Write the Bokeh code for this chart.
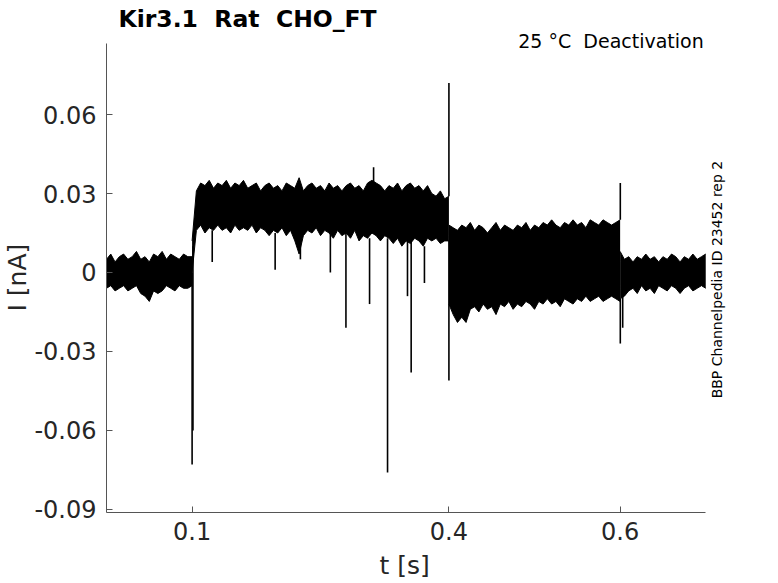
import math
from bokeh.plotting import figure
from bokeh.models import (Range1d, FixedTicker, PrintfTickFormatter, Label, Title, LinearAxis,
                          ColumnDataSource)
from bokeh.embed import file_html
from bokeh.resources import INLINE

# ---- data ----
# noise band of the overlaid sweeps, sampled every 5 ms: upper / lower envelope [nA]
t_a = [round(0.005 * i, 3) for i in range(0, 21)]          # 0.000 .. 0.100
a_hi = [0.005, 0.007, 0.004, 0.006, 0.007, 0.005, 0.006, 0.008, 0.005, 0.006, 0.004,
        0.007, 0.006, 0.008, 0.005, 0.007, 0.006, 0.005, 0.007, 0.006, 0.006]
a_lo = [-0.006, -0.005, -0.007, -0.006, -0.005, -0.007, -0.006, -0.005, -0.008, -0.009, -0.011,
        -0.007, -0.008, -0.007, -0.005, -0.006, -0.007, -0.005, -0.006, -0.006, -0.005]

t_b = [round(0.100 + 0.005 * i, 3) for i in range(0, 61)]  # 0.100 .. 0.400
b_hi = [0.012, 0.031, 0.034, 0.033, 0.035, 0.032, 0.034, 0.033, 0.035, 0.032,
        0.034, 0.033, 0.035, 0.032, 0.033, 0.034, 0.031, 0.033, 0.034, 0.032,
        0.033, 0.031, 0.034, 0.033, 0.032, 0.036, 0.031, 0.033, 0.034, 0.032,
        0.033, 0.031, 0.034, 0.032, 0.033, 0.031, 0.033, 0.034, 0.032, 0.033,
        0.031, 0.034, 0.035, 0.034, 0.033, 0.031, 0.033, 0.032, 0.034, 0.031,
        0.033, 0.034, 0.032, 0.033, 0.031, 0.033, 0.030, 0.029, 0.031, 0.028, 0.029]
b_lo = [0.000, 0.016, 0.018, 0.015, 0.017, 0.016, 0.018, 0.016, 0.017, 0.015,
        0.018, 0.016, 0.017, 0.016, 0.018, 0.015, 0.017, 0.016, 0.014, 0.016,
        0.015, 0.017, 0.014, 0.016, 0.012, 0.007, 0.014, 0.016, 0.015, 0.017,
        0.014, 0.016, 0.015, 0.013, 0.016, 0.014, 0.015, 0.013, 0.016, 0.012,
        0.014, 0.013, 0.015, 0.014, 0.012, 0.014, 0.013, 0.011, 0.013, 0.010,
        0.012, 0.011, 0.013, 0.012, 0.010, 0.013, 0.012, 0.013, 0.011, 0.012, 0.012]

t_c = [round(0.400 + 0.005 * i, 3) for i in range(0, 41)]  # 0.400 .. 0.600
c_hi = [0.018, 0.017, 0.016, 0.018, 0.017, 0.019, 0.016, 0.018, 0.017, 0.015,
        0.017, 0.019, 0.016, 0.018, 0.017, 0.016, 0.018, 0.017, 0.019, 0.016,
        0.018, 0.017, 0.019, 0.018, 0.020, 0.018, 0.017, 0.019, 0.018, 0.020,
        0.018, 0.019, 0.017, 0.020, 0.019, 0.018, 0.020, 0.019, 0.018, 0.019, 0.020]
c_lo = [-0.012, -0.016, -0.019, -0.017, -0.019, -0.014, -0.013, -0.015, -0.012, -0.014,
        -0.013, -0.016, -0.012, -0.013, -0.011, -0.014, -0.012, -0.013, -0.011, -0.012,
        -0.014, -0.011, -0.012, -0.010, -0.012, -0.011, -0.013, -0.010, -0.011, -0.012,
        -0.010, -0.011, -0.009, -0.011, -0.010, -0.009, -0.011, -0.010, -0.009, -0.010, -0.011]

t_d = [round(0.600 + 0.005 * i, 3) for i in range(0, 21)]  # 0.600 .. 0.700
d_hi = [0.008, 0.005, 0.006, 0.004, 0.006, 0.005, 0.007, 0.005, 0.006, 0.004, 0.006,
        0.005, 0.007, 0.006, 0.004, 0.006, 0.005, 0.007, 0.005, 0.006, 0.007]
d_lo = [-0.010, -0.009, -0.007, -0.006, -0.008, -0.005, -0.007, -0.006, -0.008, -0.005, -0.006,
        -0.007, -0.005, -0.006, -0.008, -0.006, -0.005, -0.007, -0.006, -0.005, -0.006]

# capacitive transients / glitches: time, start value, tip value [nA]
spike_t = [0.100, 0.101, 0.1235, 0.197, 0.2265, 0.2615, 0.2797, 0.3073, 0.312, 0.3283,
           0.3516, 0.3559, 0.3714, 0.400, 0.400, 0.6002, 0.6002, 0.603]
spike_from = [0.000, 0.010, 0.016, 0.015, 0.012, 0.015, 0.015, 0.013, 0.034, 0.013,
              0.012, 0.012, 0.010, 0.012, 0.029, -0.010, 0.020, -0.008]
spike_to = [-0.073, -0.060, 0.004, 0.001, 0.005, 0.000, -0.021, -0.012, 0.040, -0.076,
            -0.009, -0.038, -0.004, -0.041, 0.072, -0.027, 0.034, -0.021]

x_ticks = [0.1, 0.4, 0.6]
y_ticks = [-0.09, -0.06, -0.03, 0.0, 0.03, 0.06]
x_bounds = (0.0, 0.7)
y_bounds = (-0.0912, 0.087)

title_text = "Kir3.1 \u00a0Rat \u00a0CHO_FT"
cond_text = "25 \u00b0C \u00a0Deactivation"
id_text = "BBP Channelpedia ID 23452 rep 2"
x_label = "t [s]"
x_label_at = 0.3483
y_label = "I [nA]"

# ---- figure ----
FONT = "DejaVu Sans"
AX = "#555555"
TXT = "#262626"
p = figure(width=778, height=583, output_backend="svg", toolbar_location=None,
           x_range=Range1d(0, 0.785), y_range=Range1d(-0.0912, 0.10334),
           min_border_left=104, min_border_right=0, min_border_top=0, min_border_bottom=71)
p.xgrid.visible = False
p.ygrid.visible = False
p.outline_line_color = None
p.background_fill_color = "white"
p.border_fill_color = "white"

p.xaxis.bounds = x_bounds
p.yaxis.bounds = y_bounds
for ax, ticks, stand in ((p.xaxis, x_ticks, 9), (p.yaxis, y_ticks, 10)):
    ax.ticker = FixedTicker(ticks=ticks)
    ax.formatter = PrintfTickFormatter(format="%g")
    ax.major_tick_in = 6
    ax.major_tick_out = 0
    ax.minor_tick_in = 0
    ax.minor_tick_out = 0
    ax.axis_line_color = AX
    ax.major_tick_line_color = AX
    ax.major_label_text_font = FONT
    ax.major_label_text_font_size = "24px"
    ax.major_label_text_color = TXT
    ax.major_label_standoff = stand

# x axis title: a second, bare axis below whose single label is the title
xlab_axis = LinearAxis(ticker=FixedTicker(ticks=[x_label_at]),
                       major_label_overrides={x_label_at: x_label},
                       axis_line_color=None, major_tick_line_color=None,
                       minor_tick_line_color=None, major_tick_in=0, major_tick_out=0,
                       major_label_standoff=8, major_label_text_font=FONT,
                       major_label_text_font_size="25px", major_label_text_color=TXT)
p.add_layout(xlab_axis, "below")

# y axis title in the left side panel
p.add_layout(Title(text=y_label, align="left", offset=201, standoff=0, text_font=FONT,
                   text_font_size="25px", text_font_style="normal", text_color=TXT), "left")

for tt, hi, lo in ((t_a, a_hi, a_lo), (t_b, b_hi, b_lo), (t_c, c_hi, c_lo), (t_d, d_hi, d_lo)):
    src = ColumnDataSource(dict(t=tt, hi=hi, lo=lo))
    p.varea(x="t", y1="lo", y2="hi", source=src, fill_color="black")
    p.line(x="t", y="hi", source=src, line_color="black", line_width=1)
    p.line(x="t", y="lo", source=src, line_color="black", line_width=1)

sp = ColumnDataSource(dict(t=spike_t, a=spike_from, b=spike_to))
p.segment(x0="t", y0="a", x1="t", y1="b", source=sp, line_color="black", line_width=1.6)

# ---- texts ----
p.add_layout(Label(x=0.0140, y=0.0965, text=title_text, text_font=FONT, text_font_size="23.5px",
                   text_font_style="bold", text_color="black", text_align="left",
                   text_baseline="middle"))
p.add_layout(Label(x=0.6977, y=0.0881, text=cond_text, text_font=FONT, text_font_size="19px",
                   text_color="black", text_align="right", text_baseline="middle"))
p.add_layout(Label(x=0.7128, y=-0.0027, text=id_text, text_font=FONT, text_font_size="14px",
                   text_color="black", text_align="center", text_baseline="middle",
                   angle=math.pi / 2))

open("out.html", "w").write(file_html(p, INLINE))
